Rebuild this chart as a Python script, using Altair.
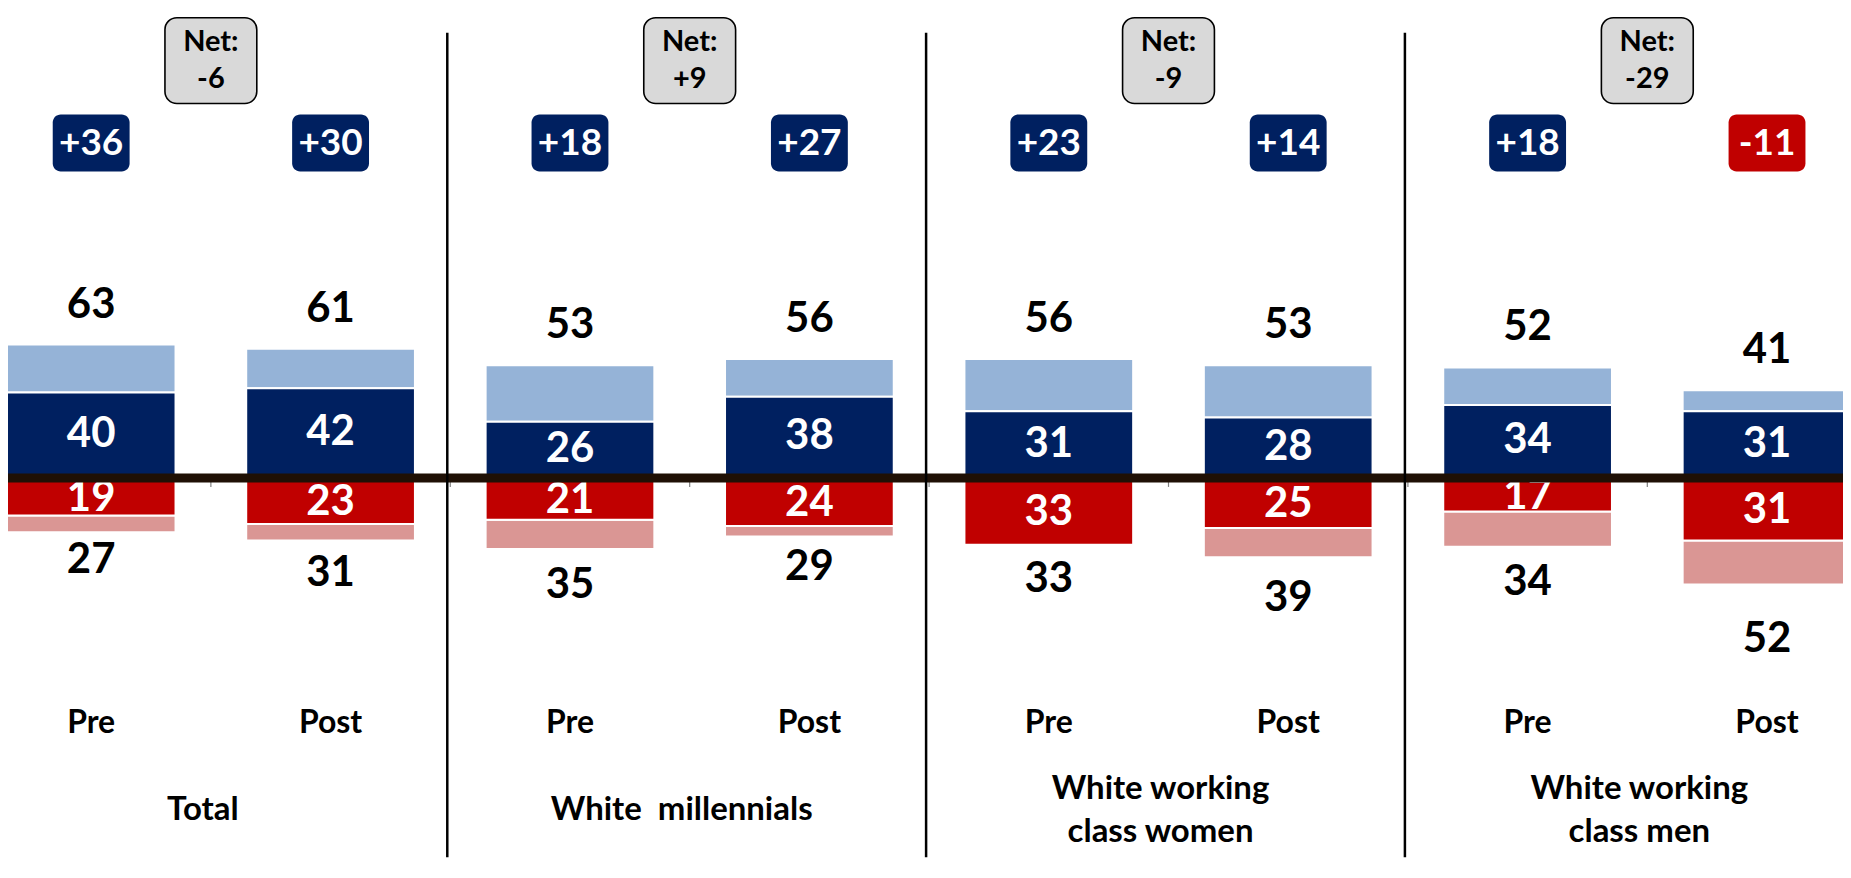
import altair as alt
import pandas as pd

# ---------------- data ----------------
groups = ["Total", "White \u00a0millennials", "White working\nclass women", "White working\nclass men"]
periods = ["Pre", "Post"]
strong_dem = [40, 42, 26, 38, 31, 28, 34, 31]
total_dem = [63, 61, 53, 56, 56, 53, 52, 41]
strong_rep = [19, 23, 21, 24, 33, 25, 17, 31]
total_rep = [27, 31, 35, 29, 33, 39, 34, 52]

NAVY = "#002060"
LIGHT_BLUE = "#95B3D7"
RED = "#C00000"
PINK = "#DA9694"
FONT = "Lato"

# ---------------- layout ----------------
W, H = 1838, 850
X_DOMAIN = [-0.3474, 7.3174]          # bar index
Y_DOMAIN = [-182.78, 223.92]          # percent
PX_X = W / (X_DOMAIN[1] - X_DOMAIN[0])
PX_Y = H / (Y_DOMAIN[1] - Y_DOMAIN[0])
HALF_BAR = 84.5 / PX_X


def px_to_y(p):
    """plot-pixel row -> value on the y scale"""
    return Y_DOMAIN[1] - p / PX_Y


xs = alt.Scale(domain=X_DOMAIN, nice=False, zero=False)
ys = alt.Scale(domain=Y_DOMAIN, nice=False, zero=False)


def X(f):
    return alt.X(f"{f}:Q", scale=xs, axis=None)


def Y(f):
    return alt.Y(f"{f}:Q", scale=ys, axis=None)


n = len(strong_dem)
bars = pd.DataFrame({
    "i": list(range(n)),
    "group": [groups[k // 2] for k in range(n)],
    "period": [periods[k % 2] for k in range(n)],
    "sd": strong_dem, "td": total_dem, "sr": strong_rep, "tr": total_rep,
})
bars["margin"] = bars["td"] - bars["tr"]
bars["margin_txt"] = bars["margin"].map(lambda v: f"{v:+d}")
bars["mfill"] = bars["margin"].map(lambda v: NAVY if v >= 0 else RED)
bars["yb"] = -1.5 * bars["tr"]
bars["ymd"] = bars["sd"] / 2
bars["ymr"] = -bars["sr"] / 2
bars["yper"] = px_to_y(715)
bars["yb1"] = px_to_y(106)
bars["yb2"] = px_to_y(163)
bars["ybt"] = px_to_y(136)
bars["bx"] = bars["i"] - 38.5 / PX_X
bars["bx2"] = bars["i"] + 38.5 / PX_X

# stacked segments
seg_rows = []
for _, r in bars.iterrows():
    segs = [(LIGHT_BLUE, r.sd, r.td), (NAVY, 0, r.sd),
            (PINK, -r.sr, -r.tr), (RED, 0, -r.sr)]
    for col, a, b in segs:
        if a != b:
            seg_rows.append({"x": r.i - HALF_BAR, "x2": r.i + HALF_BAR,
                             "y": a, "y2": b, "fill": col})
segs_df = pd.DataFrame(seg_rows)

seg_layer = alt.Chart(segs_df).mark_rect(stroke="white", strokeWidth=2, clip=True).encode(
    x=X("x"), x2="x2", y=Y("y"), y2="y2",
    fill=alt.Fill("fill:N", scale=None),
)

base = alt.Chart(bars)
txt = dict(font=FONT, fontWeight="bold", align="center", baseline="middle")

top_lbl = base.mark_text(fontSize=42, color="black", dy=-40, **txt).encode(
    x=X("i"), y=Y("td"), text="td:Q")
bot_lbl = base.mark_text(fontSize=42, color="black", **txt).encode(
    x=X("i"), y=Y("yb"), text="tr:Q")
in_dem = base.mark_text(fontSize=42, color="white", **txt).encode(
    x=X("i"), y=Y("ymd"), text="sd:Q")
in_rep = base.mark_text(fontSize=42, color="white", dy=2, **txt).encode(
    x=X("i"), y=Y("ymr"), text="sr:Q")
period_lbl = base.mark_text(fontSize=32, color="black", **txt).encode(
    x=X("i"), y=Y("yper"), text="period:N")

badge = base.mark_rect(cornerRadius=8).encode(
    x=X("bx"), x2="bx2", y=Y("yb1"), y2="yb2",
    fill=alt.Fill("mfill:N", scale=None),
)
badge_txt = base.mark_text(fontSize=37, color="white", **txt).encode(
    x=X("i"), y=Y("ybt"), text="margin_txt:N")

# group-level data
gdf = pd.DataFrame({"g": list(range(len(groups))), "label": groups})
gdf["xm"] = gdf["g"] * 2 + 0.5
gdf["net"] = [int(bars["margin"][2 * g + 1] - bars["margin"][2 * g]) for g in gdf["g"]]
gdf["net_txt"] = gdf["net"].map(lambda v: f"{v:+d}")
gdf["nx"] = gdf["xm"] - 46 / PX_X
gdf["nx2"] = gdf["xm"] + 46 / PX_X
gdf["ny1"] = px_to_y(9)
gdf["ny2"] = px_to_y(95)
gdf["nt1"] = px_to_y(33)
gdf["nt2"] = px_to_y(70)
gdf["head"] = "Net:"

net_box = alt.Chart(gdf).mark_rect(cornerRadius=12, fill="#D9D9D9", stroke="black",
                                   strokeWidth=1.6).encode(
    x=X("nx"), x2="nx2", y=Y("ny1"), y2="ny2")
net_t1 = alt.Chart(gdf).mark_text(fontSize=29, color="black", **txt).encode(
    x=X("xm"), y=Y("nt1"), text="head:N")
net_t2 = alt.Chart(gdf).mark_text(fontSize=29, color="black", **txt).encode(
    x=X("xm"), y=Y("nt2"), text="net_txt:N")

# group labels (line by line)
glines = []
for _, r in gdf.iterrows():
    parts = r.label.split("\n")
    for k, p in enumerate(parts):
        glines.append({"xm": r.xm, "line": p,
                       "yl": px_to_y(803 + (k - (len(parts) - 1) / 2) * 43)})
gl_df = pd.DataFrame(glines)
group_lbl = alt.Chart(gl_df).mark_text(fontSize=33, color="black", dx=-8, **txt).encode(
    x=X("xm"), y=Y("yl"), text="line:N")

# separators between groups
sep_df = pd.DataFrame({"xs": [2 * g + 1.5 - 3 / PX_X for g in range(len(groups) - 1)]})
sep_df["y1"] = px_to_y(24)
sep_df["y2"] = Y_DOMAIN[0]
seps = alt.Chart(sep_df).mark_rule(color="black", strokeWidth=2.5).encode(
    x=X("xs"), y=Y("y1"), y2="y2")

# small category ticks below the zero line
tick_df = pd.DataFrame({"xt": [k + 0.5 for k in range(n - 1)]})
tick_df["z"] = 0.0
ticks = alt.Chart(tick_df).mark_rule(color="#808080", strokeWidth=1.2,
                                     yOffset=6, y2Offset=11).encode(
    x=X("xt"), y=Y("z"), y2="z")

zl_df = pd.DataFrame({"x1": [X_DOMAIN[0]], "x2": [X_DOMAIN[1]], "z": [0.0]})
zero_line = alt.Chart(zl_df).mark_rule(color="#1F1005", strokeWidth=9, yOffset=2).encode(
    x=X("x1"), x2="x2", y=Y("z"))

chart = alt.layer(
    seg_layer, ticks, in_dem, in_rep, zero_line, seps,
    top_lbl, bot_lbl, period_lbl, badge, badge_txt,
    net_box, net_t1, net_t2, group_lbl,
).properties(
    width=W, height=H, padding=0, autosize=alt.AutoSizeParams(type="none"),
    background="white",
).configure_view(stroke=None)

chart.save("out.html", embed_options={"renderer": "svg", "actions": False})
